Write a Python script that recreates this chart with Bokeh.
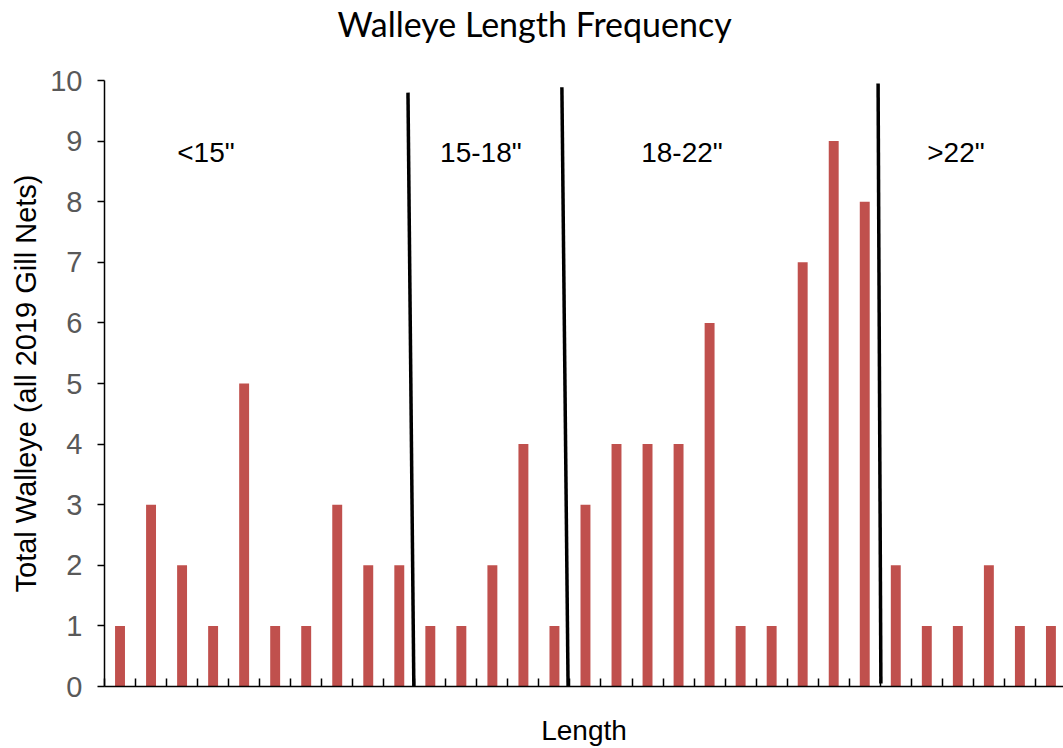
from bokeh.plotting import figure
from bokeh.models import ColumnDataSource, FixedTicker, Range1d, Label, Title
from bokeh.embed import file_html
from bokeh.resources import INLINE

counts = [1, 3, 2, 1, 5, 1, 1, 3, 2, 2,
          1, 1, 2, 4, 1,
          3, 4, 4, 4, 6, 1, 1, 7, 9, 8,
          2, 1, 1, 2, 1, 1]
positions = list(range(len(counts)))
group_labels = ['<15"', '15-18"', '18-22"', '>22"']
group_label_x = [2.77, 11.63, 18.11, 26.94]
group_label_y = [8.82, 8.82, 8.82, 8.82]
# hand-drawn divider lines (x0, y0, x1, y1) in data units
div_x0 = [9.28, 14.24, 24.43]
div_y0 = [9.80, 9.89, 9.95]
div_x1 = [9.47, 14.44, 24.52]
div_y1 = [-0.07, -0.03, 0.05]
title_text = "Walleye Length Frequency"

FONT = "Liberation Sans"

p = figure(width=1063, height=748, output_backend="svg", toolbar_location=None,
           x_range=Range1d(-0.5, 30.405), y_range=Range1d(0, 10),
           min_border_left=104, min_border_right=0, min_border_top=76,
           min_border_bottom=62, title=title_text)
p.outline_line_color = None
p.xgrid.visible = False
p.ygrid.visible = False

# real title (outer), spacer title next to the frame
p.title.text_font = "Lato"
p.title.text_font_size = "34px"
p.title.text_font_style = "normal"
p.title.text_color = "black"
p.title.align = "left"
p.title.offset = 233
p.title.standoff = 0
p.add_layout(Title(text=" ", text_font_size="10px", standoff=24), "above")

src = ColumnDataSource(dict(x=positions, top=counts))
p.vbar(x="x", top="top", width=0.32, bottom=0, source=src,
       fill_color="#C0504D", line_color=None)

seg = ColumnDataSource(dict(x0=div_x0, y0=div_y0, x1=div_x1, y1=div_y1))
p.segment(x0="x0", y0="y0", x1="x1", y1="y1", source=seg,
          line_color="black", line_width=3.5)

for t, x, y in zip(group_labels, group_label_x, group_label_y):
    p.add_layout(Label(x=x, y=y, text=t, text_align="center",
                       text_baseline="middle", text_font=FONT,
                       text_font_size="28px", text_color="black"))

ticks = [i - 0.5 for i in range(len(counts) + 1)]
p.xaxis.ticker = FixedTicker(ticks=ticks)
p.xaxis.major_label_overrides = {t: "" for t in ticks}
p.xaxis.major_tick_in = 8
p.xaxis.major_tick_out = 0
p.xaxis.minor_tick_line_color = None
p.xaxis.axis_line_color = "black"
p.xaxis.axis_line_width = 1.5
p.xaxis.major_tick_line_color = "black"
p.xaxis.major_tick_line_width = 1.5
p.xaxis.axis_label = "Length"
p.xaxis.axis_label_text_font = FONT
p.xaxis.axis_label_text_font_size = "28px"
p.xaxis.axis_label_text_font_style = "normal"
p.xaxis.axis_label_text_color = "black"
p.xaxis.axis_label_standoff = 28
p.xaxis.major_label_text_font_size = "1px"

p.yaxis.ticker = FixedTicker(ticks=list(range(0, 11)))
p.yaxis.major_tick_in = 0
p.yaxis.major_tick_out = 7
p.yaxis.minor_tick_line_color = None
p.yaxis.axis_line_color = "black"
p.yaxis.axis_line_width = 1.5
p.yaxis.major_tick_line_color = "black"
p.yaxis.major_tick_line_width = 1.5
p.yaxis.major_label_text_font = FONT
p.yaxis.major_label_text_font_size = "29px"
p.yaxis.major_label_text_color = "#595959"
p.yaxis.major_label_standoff = 15
p.yaxis.axis_label = "Total Walleye (all 2019 Gill Nets)"
p.yaxis.axis_label_text_font = FONT
p.yaxis.axis_label_text_font_size = "29px"
p.yaxis.axis_label_text_font_style = "normal"
p.yaxis.axis_label_text_color = "black"
p.yaxis.axis_label_standoff = 5

open("out.html", "w").write(file_html(p, INLINE))
